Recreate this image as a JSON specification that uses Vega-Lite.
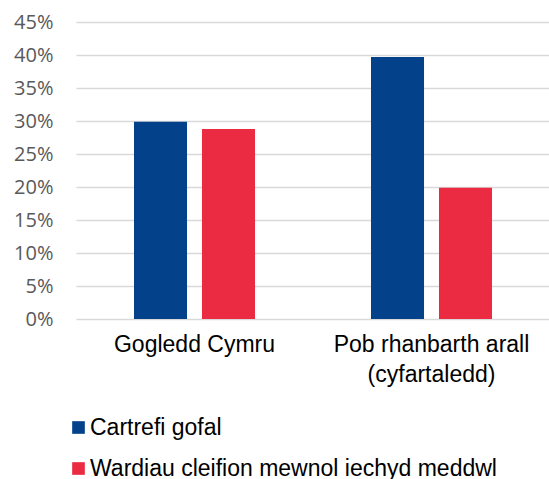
{
  "$schema": "https://vega.github.io/schema/vega-lite/v6.json",
  "width": 474,
  "height": 297,
  "padding": {"left": 13, "top": 12, "right": 0, "bottom": 0},
  "background": "white",
  "data": {
    "values": [
      {"region": "Gogledd Cymru", "setting": "Cartrefi gofal", "value": 0.299},
      {"region": "Gogledd Cymru", "setting": "Wardiau cleifion mewnol iechyd meddwl", "value": 0.288},
      {"region": "Pob rhanbarth arall (cyfartaledd)", "setting": "Cartrefi gofal", "value": 0.397},
      {"region": "Pob rhanbarth arall (cyfartaledd)", "setting": "Wardiau cleifion mewnol iechyd meddwl", "value": 0.199}
    ]
  },
  "mark": {"type": "bar"},
  "encoding": {
    "x": {
      "field": "region",
      "type": "nominal",
      "sort": null,
      "scale": {"paddingInner": 0, "paddingOuter": 0},
      "axis": {
        "title": null,
        "labelAngle": 0,
        "domain": false,
        "ticks": false,
        "labelFont": "Liberation Sans",
        "labelFontSize": 23,
        "labelColor": "#000000",
        "labelPadding": 14,
        "labelLineHeight": 30,
        "labelLimit": 0,
        "labelExpr": "datum.value == 'Pob rhanbarth arall (cyfartaledd)' ? ['Pob rhanbarth arall', '(cyfartaledd)'] : datum.value"
      }
    },
    "xOffset": {
      "field": "setting",
      "type": "nominal",
      "sort": null,
      "scale": {"paddingInner": 0.22, "paddingOuter": 0.853}
    },
    "y": {
      "field": "value",
      "type": "quantitative",
      "scale": {"domain": [0, 0.45]},
      "axis": {
        "title": null,
        "format": ".0%",
        "values": [0, 0.05, 0.1, 0.15, 0.2, 0.25, 0.3, 0.35, 0.4, 0.45],
        "domain": false,
        "ticks": false,
        "labelPadding": 23,
        "labelFont": "Open Sans",
        "labelFontSize": 20,
        "labelColor": "#595959",
        "gridColor": "#d9d9d9",
        "gridWidth": 1.5
      }
    },
    "color": {
      "field": "setting",
      "type": "nominal",
      "sort": null,
      "scale": {"range": ["#03428a", "#ea2b41"]},
      "legend": {
        "title": null,
        "orient": "bottom",
        "direction": "vertical",
        "padding": 0,
        "symbolType": "square",
        "symbolSize": 160,
        "symbolStrokeWidth": 0,
        "symbolOffset": -9,
        "labelFont": "Liberation Sans",
        "labelFontSize": 23,
        "labelColor": "#000000",
        "labelLimit": 0,
        "labelOffset": 0,
        "rowPadding": 17,
        "offset": 30
      }
    }
  },
  "config": {"view": {"stroke": null}}
}
